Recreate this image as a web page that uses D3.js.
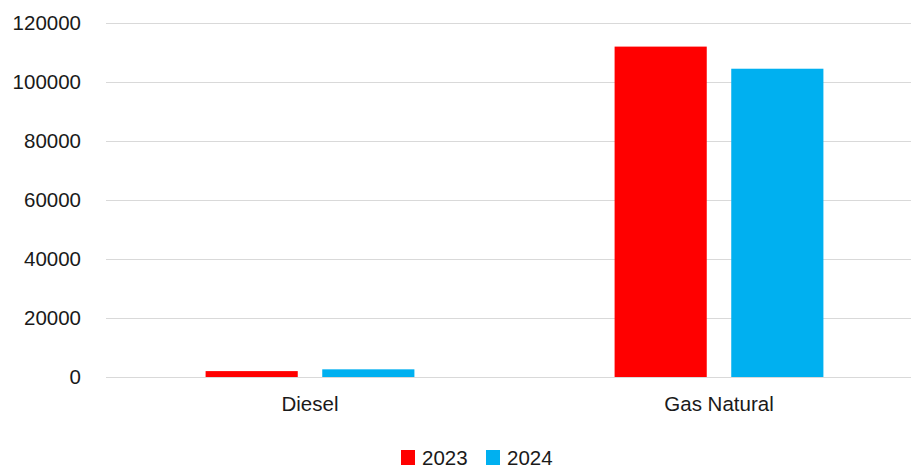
<!DOCTYPE html>
<html>
<head>
<meta charset="utf-8">
<script src="https://cdn.jsdelivr.net/npm/d3@7"></script>
<style>
  body { margin: 0; background: #ffffff; }
  text { font-family: "Liberation Sans", Arial, sans-serif; fill: #1a1a1a; }
</style>
</head>
<body>
<svg id="svg" width="911" height="469"></svg>
<script>
// data
const categories = ["Diesel", "Gas Natural"];
const series = ["2023", "2024"];
const values2023 = [2000, 112000];
const values2024 = [2600, 104500];
const yTicks = [0, 20000, 40000, 60000, 80000, 100000, 120000];
const colors = ["#ff0000", "#00b0f0"];

const FONT_SIZE = "20.5px";
const svg = d3.select("#svg");

// scales
const x = d3.scaleBand().domain(categories).range([105.5, 923.5]).padding(0);
const xInner = d3.scaleBand().domain(series).range([0, x.bandwidth()])
  .paddingInner(0.21).paddingOuter(0.858);
const y = d3.scaleLinear().domain([0, 120000]).range([377, 23]);

// gridlines
svg.append("g")
  .selectAll("line")
  .data(yTicks)
  .enter().append("line")
  .attr("x1", 106)
  .attr("x2", 911)
  .attr("y1", d => Math.round(y(d)) + 0.5)
  .attr("y2", d => Math.round(y(d)) + 0.5)
  .attr("stroke", "#d9d9d9")
  .attr("stroke-width", 1);

// y tick labels
const yAxis = d3.axisLeft(y).tickValues(yTicks).tickSize(0).tickPadding(0)
  .tickFormat(d3.format("d"));
svg.append("g")
  .attr("transform", "translate(81,0)")
  .call(yAxis)
  .call(g => g.select(".domain").remove())
  .selectAll("text")
  .style("font-size", FONT_SIZE)
  .attr("fill", "#1a1a1a")
  .style("font-family", "'Liberation Sans', Arial, sans-serif");

// bars
const rows = categories.map((c, i) => ({cat: c, vals: [values2023[i], values2024[i]]}));
const groups = svg.append("g").selectAll("g")
  .data(rows)
  .enter().append("g")
  .attr("transform", d => "translate(" + x(d.cat) + ",0)");

groups.selectAll("rect")
  .data(d => d.vals.map((v, j) => ({key: series[j], v: v, color: colors[j]})))
  .enter().append("rect")
  .attr("x", d => xInner(d.key))
  .attr("width", xInner.bandwidth())
  .attr("y", d => y(d.v))
  .attr("height", d => y(0) - y(d.v))
  .attr("fill", d => d.color);

// x axis baseline
svg.append("line")
  .attr("x1", 106).attr("x2", 911)
  .attr("y1", 377.5).attr("y2", 377.5)
  .attr("stroke", "#d9d9d9");

// x labels
const xAxis = d3.axisBottom(x).tickSize(0).tickPadding(0);
svg.append("g")
  .attr("transform", "translate(0,396)")
  .call(xAxis)
  .call(g => g.select(".domain").remove())
  .selectAll("text")
  .style("font-size", FONT_SIZE)
  .attr("fill", "#1a1a1a")
  .style("font-family", "'Liberation Sans', Arial, sans-serif");

// legend (kept a few px above the bottom edge so text isn't clipped)
const legendX = [401, 486];
const legend = svg.append("g").selectAll("g")
  .data(series)
  .enter().append("g")
  .attr("transform", (d, i) => "translate(" + legendX[i] + ",450)");
legend.append("rect")
  .attr("width", 14).attr("height", 15)
  .attr("fill", (d, i) => colors[i]);
legend.append("text")
  .attr("x", 21).attr("y", 15)
  .style("font-size", FONT_SIZE)
  .text(d => d);
</script>
</body>
</html>
